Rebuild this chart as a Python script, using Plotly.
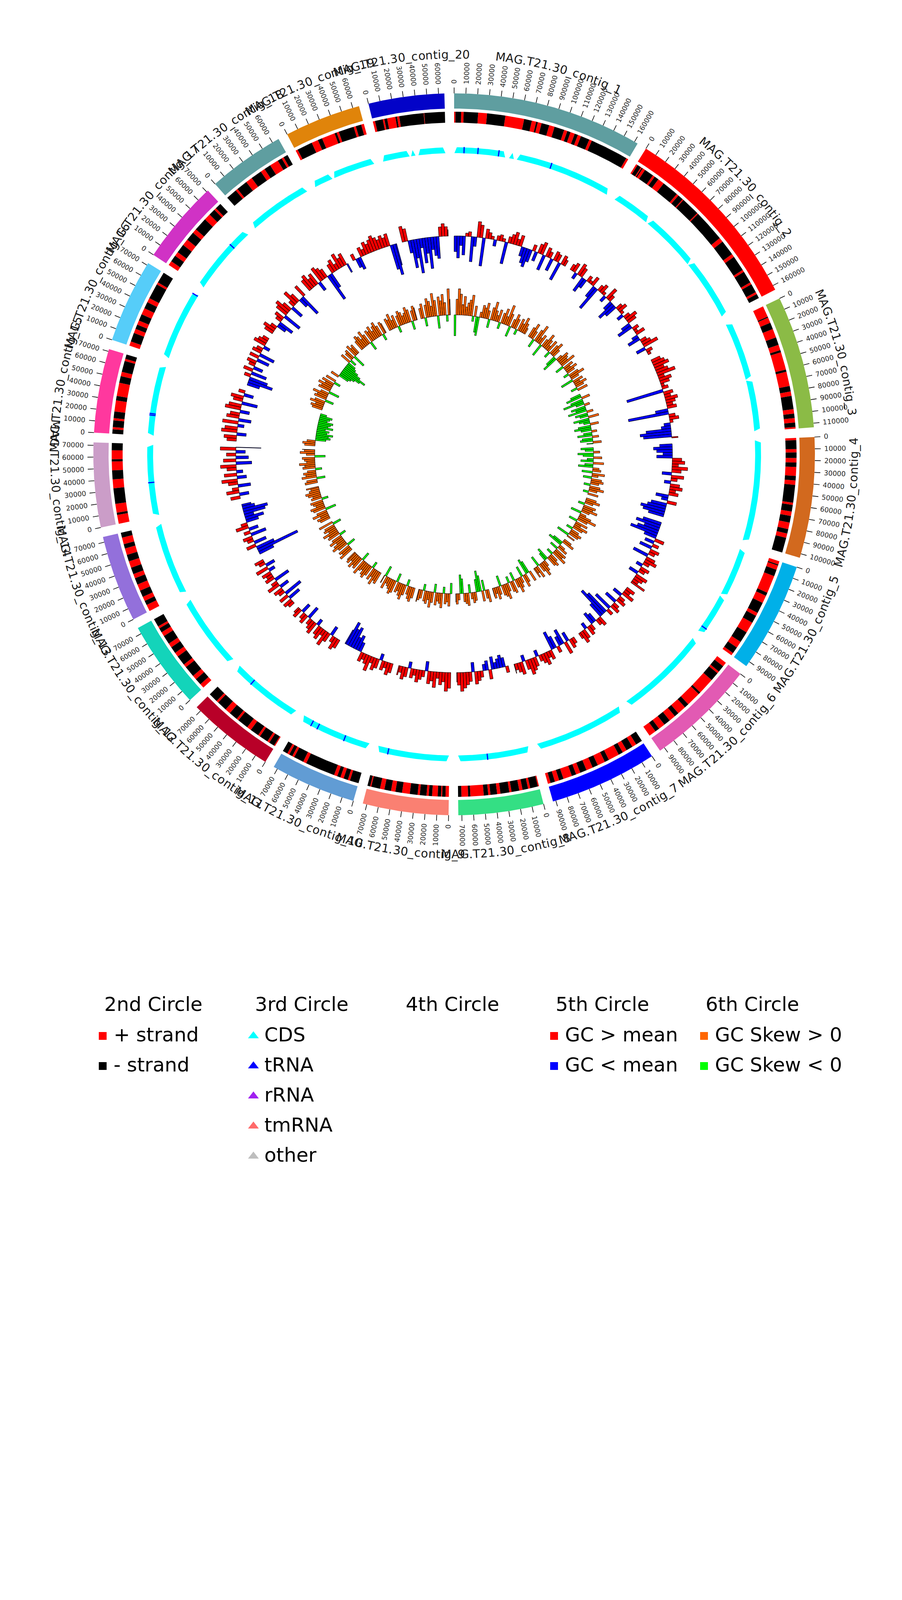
import math
import plotly.graph_objects as go

# ======================= DATA =======================
contig_labels = ["MAG.T21.30_contig_%d" % i for i in range(1, 21)]
contig_length_bp = [163000, 164000, 113500, 103500, 94500, 94500, 92500, 73000, 73500, 73500,
                    74500, 75500, 74500, 72500, 72000, 72000, 71500, 66000, 65500, 65000]
contig_colors = ["#5F9EA0", "#FF0000", "#8BBB46", "#D2691E", "#00B0E8", "#E25AB3", "#0000FF",
                 "#34DF84", "#FA8072", "#619CD4", "#B80028", "#13D4BA", "#9370DB", "#CB9DC8",
                 "#FF389E", "#56CDF9", "#D032C5", "#5F9EA0", "#E0840A", "#0303C8"]

# 2nd circle: strand runs (kb boundaries, alternating strand starting with strand_first)
strand_first = ['+', '+', '+', '+', '+', '+', '-', '+', '+', '-',
                '+', '+', '+', '+', '-', '+', '+', '-', '+', '+']
strand_bounds_kb = [
    [0, 1.2, 6.3, 8.5, 21.5, 29.5, 46, 63, 70, 74, 75.5, 79, 86, 91, 100, 103, 106, 110, 113, 116, 124, 126.5, 161, 163],
    [0, 1.5, 5, 6, 7, 9.5, 18, 20, 24, 30, 45, 47, 52, 53, 70, 71, 100, 104, 118, 121, 135, 137, 148, 150, 158, 160, 164],
    [0, 10, 11, 16, 22, 30, 37, 42, 44, 60, 62, 75, 80, 84, 96, 100, 104, 108, 112, 113.5],
    [0, 2, 10, 13, 18, 22, 26, 34, 38, 42, 58, 60, 66, 70, 76, 82, 86, 90, 103.5],
    [0, 3, 4, 8, 14, 30, 33, 40, 50, 53, 60, 70, 80, 86, 92, 94.5],
    [0, 4, 10, 12, 20, 35, 37, 50, 54, 62, 66, 72, 78, 84, 88, 94.5],
    [0, 6, 10, 16, 20, 24, 34, 38, 45, 50, 56, 62, 66, 70, 78, 82, 86, 90, 92.5],
    [0, 1, 8, 10, 15, 18, 25, 27, 35, 38, 44, 46, 50, 62, 64, 70, 73],
    [0, 3, 6, 7, 10, 15, 18, 20, 26, 28, 35, 42, 48, 52, 58, 62, 70, 71, 73.5],
    [0, 8, 10, 14, 17, 20, 23, 50, 53, 62, 64, 67, 69, 73.5],
    [0, 1, 6, 8, 16, 18, 26, 30, 40, 42, 50, 55, 64, 66, 74.5],
    [0, 4, 10, 14, 24, 27, 36, 40, 46, 50, 58, 62, 66, 68, 75.5],
    [0, 6, 10, 14, 20, 26, 32, 36, 42, 48, 54, 60, 64, 70, 74.5],
    [0, 8, 10, 18, 32, 40, 48, 56, 58, 66, 72.5],
    [0, 4, 6, 12, 14, 20, 30, 34, 46, 52, 56, 66, 68, 72],
    [0, 4, 12, 16, 20, 24, 30, 36, 42, 46, 60, 62, 72],
    [0, 4, 10, 14, 22, 28, 36, 40, 52, 58, 64, 66, 71.5],
    [0, 10, 12, 22, 28, 38, 42, 48, 56, 60, 62, 66],
    [0, 2, 16, 22, 26, 38, 40, 42, 56, 58, 63, 65.5],
    [0, 2, 9, 10.5, 13, 20.5, 22, 24, 46, 46.5, 65],
]

# 3rd circle: CDS blocks (kb) and tRNA positions (kb)
cds_blocks_kb = [
    [[0.3, 52], [56, 61], [64, 162.5]],
    [[0.5, 40], [42, 100], [101, 163.5]],
    [[0.5, 60], [61, 113]],
    [[0.5, 103]],
    [[0.5, 50], [52, 94]],
    [[0.5, 94]],
    [[0.5, 92]],
    [[0.5, 72.5]],
    [[0.5, 73]],
    [[0.5, 73]],
    [[0.5, 74]],
    [[0.5, 75]],
    [[0.5, 74]],
    [[0.5, 72]],
    [[0.5, 71.5]],
    [[0.5, 71.5]],
    [[0.5, 71]],
    [[0.5, 65.5]],
    [[0.5, 20], [22, 65]],
    [[0.5, 28], [29.5, 34], [37, 64.5]],
]
trna_kb = [[10, 24, 45, 99], [], [], [], [88], [], [], [43], [62], [26, 55, 62],
           [53], [], [], [34], [21, 22.5], [70], [51], [], [], []]

# 5th circle: GC content deviation from mean (%), 4 kb windows
gc_window_kb = 4
gc_dev_pct = [
    [-5, -7, -3, -6, 1, 1.5, -8, -3, 5, 4, -9, 3, 2, 1, -2, 1.5, 2, 1, -7, 2, 3, 4, 2, 3.5, -3, -5, -6, -4, 2, -3, 3, 4, -5, 3, 2, -4, 3, 2.5, -6, 3, 2],
    [2, 3, -2, 4, 3, -5, -3, 2, 1, 3, -4, -8, 2, 3, 1, -2, 4, 2, -3, -6, -4, 2, 3, 1, -2, 2, 4, 3, -3, -5, 2, 1, 3, -2, -4, 2, 3, 5, -3, 2, 1],
    [3, 4, 5, 3, 4, 6, 2, 4, 3, 1, 2, -12, 3, 2, 4, 3, 2, 3, -4, -13, 2, 3, 1, -2, -3, -8, -10, -9, 2],
    [-4, -6, -5, -3, -5, 3, 4, 2, 5, 3, -3, 4, 2, -2, 3, 4, 2, 3, -4, -2, 3, -5, -6, -8, -7, -5],
    [-6, -8, -5, -7, -9, -4, 3, -3, 2, -4, 3, 2, -5, 3, 4, 2, -2, 3, 2, -3, 4, 3, 2, 5],
    [3, 2, 4, -3, 2, 3, -4, 2, 3, -6, 2, -8, -10, -5, 3, 2, -3, -4, 2, 3, -2, 3, 4, 2],
    [2, 3, -3, 4, -5, -3, 2, -4, -6, 3, 2, 4, 3, 2, -2, 3, 4, 5, 3, -2, 4, 3, 2, 3],
    [2, -3, -4, -3, -2, -4, 3, -3, -2, 2, 3, 4, -3, 3, 4, 5, 6, 4, 3],
    [5, 6, 3, 4, 2, 5, 3, 4, -3, 2, 3, 4, 2, 3, -2, 3, 4, 2, 3],
    [3, 4, 2, 3, -2, 3, 4, 2, 5, 3, 2, 3, -3, -5, -4, -7, -6, -8, -5],
    [3, 4, 2, -3, 3, 5, 2, 4, 3, -2, 4, 3, 2, -4, 3, 2, -3, 3, 2],
    [2, 3, -4, 3, -6, 2, 3, -3, 4, 2, -5, 3, 2, 3, -2, 4, -3, 2, 3],
    [-5, -14, -6, 3, -4, 2, 3, -5, 2, -3, 4, 2, -4, -6, -3, -7, -8, -4, -3],
    [3, -3, 4, 2, -4, 3, 5, -3, 4, -2, 3, 5, -5, 4, -4, 3, -3, 5, -8],
    [3, 4, -3, 5, 4, -2, 5, -4, 4, 3, -3, 5, 4, -5, 3, 4, -3, 2],
    [-4, -8, -6, 2, -5, 3, -3, 2, 3, -4, 3, -5, 3, 2, -2, 4, 3, 2],
    [3, 4, 2, -3, -5, 2, 3, -6, 4, 5, 3, -4, 2, 5, 3, -3, -7, 4],
    [4, 5, 3, 4, -3, 5, 4, 3, -9, -5, 3, 4, 2, 5, 3, 4, -3],
    [2, -3, -4, 3, 2, 4, 3, 4, 5, 4, 3, 4, 3, 4, -8, -10, -7],
    [5, 4, -4, -9, -6, -11, -3, -8, -5, -10, -4, -6, -7, 3, 4, 3, 2],
]

# 6th circle: GC skew (x100), 4 kb windows
gc_skew_x100 = [
    [-20, 15, 25, 20, 10, 18, 8, 12, 15, 20, -5, 10, -15, -18, 5, 12, 10, 15, 8, -8, 12, 18, 10, 6, 12, -6, 10, 15, 8, 20, 12, -10, 8, 14, 10, -5, 12, 8, 15, 10, 6],
    [10, 15, 8, -8, 12, 18, 6, 10, -12, 8, 15, 10, 5, 12, -6, 10, 14, 8, -10, -15, 6, 12, 10, 8, 15, -8, 10, 6, 12, 8, -5, 10, 15, 8, -12, 10, 6, 12, 8, -6, 10],
    [-10, -15, 8, -12, -20, -8, 5, -14, -10, -18, 6, -12, -8, 10, -15, -10, -6, 8, -12, -16, -10, 5, -8, -14, 6, -10, -12, 8, -6],
    [-12, -8, 6, -15, -10, 8, -6, -12, 10, -8, -14, 6, 8, -10, 12, 6, -8, 10, 12, 8, -6, 10, 14, 8, -5, 10],
    [10, 14, 8, -6, 12, 10, 15, 8, -10, 6, 12, 18, 10, -8, 12, 6, 14, 10, -6, 8, 12, 10, -12, 8],
    [8, 12, -10, -14, 6, 10, -8, 12, 10, 15, -6, 8, 12, 10, -12, -8, 6, 10, 14, 8, -10, 12, 6, 10],
    [10, -12, -15, 8, 12, -10, 6, 10, 14, 8, -8, 12, 10, -6, 8, 15, 12, 10, -10, 8, 12, 6, 10, 8],
    [12, 8, -10, 10, -15, -20, -12, 8, 10, 6, -8, 12, 10, 8, -14, -18, 6, 10, 8],
    [-10, 12, 8, 10, -6, 14, 10, 8, 12, -8, 10, 15, 8, 12, 10, -6, 8, 10, 12],
    [10, 14, 12, 8, -6, 10, 15, 12, 8, 10, -8, 12, 14, 10, 8, 6, 12, -10, 8],
    [12, 10, 15, 8, 12, -6, 10, 14, 12, 8, 10, 15, -8, 12, 10, 14, 8, 12, 10],
    [14, 10, 12, -8, 10, 15, 12, 8, 14, 10, -6, 12, 10, 15, 8, 12, 10, -8, 14],
    [10, 12, 8, 15, 10, -10, 12, 14, 8, 10, 12, -6, 10, 8, 12, 14, 10, 8, 12],
    [12, 10, -8, 14, 10, 12, 8, -6, 12, 10, 15, 8, 10, 12, -10, 8, 14, 10, 12],
    [10, 12, 8, -10, -14, -12, -16, -10, -12, -8, -15, -10, -12, -14, -8, -10, -12, -6],
    [10, 12, 8, 14, 10, -8, 12, 10, 15, 8, -10, 12, 10, 14, 8, 12, -6, 10],
    [8, -10, -12, -15, -20, -25, -18, -14, -10, -8, 10, -6, 8, 10, -12, 12, 8, 10],
    [10, 14, 12, 8, 15, 10, -8, 12, 10, 14, 8, 12, 15, 10, -6, 12, 10],
    [12, 10, 15, 8, 12, -6, 10, 14, 12, 8, 10, 15, 12, -8, 10, 14, 12],
    [10, 14, -8, 12, 18, 15, 10, 22, 15, -12, 18, 14, 20, 12, -6, 25, 15],
]

tick_step_kb = 10

legend_columns = [
    ("2nd Circle", [("+ strand", "#FF0000", "square"), ("- strand", "#000000", "square")]),
    ("3rd Circle", [("CDS", "#00FFFF", "triangle-up"), ("tRNA", "#0000FF", "triangle-up"),
                    ("rRNA", "#A020F0", "triangle-up"), ("tmRNA", "#FF6A6A", "triangle-up"),
                    ("other", "#BEBEBE", "triangle-up")]),
    ("4th Circle", []),
    ("5th Circle", [("GC > mean", "#FF0000", "square"), ("GC < mean", "#0000FF", "square")]),
    ("6th Circle", [("GC Skew > 0", "#FF6600", "square"), ("GC Skew < 0", "#00FF00", "square")]),
]

# ======================= LAYOUT =======================
W, H = 2310, 4620
CX, CY = 1155, 1155
GAP_DEG = 1.55
R_IDEO = (885, 924)
R_STRAND = (849, 877)
R_CDS = (771, 786)
R_TRNA = (771, 787)
R_GC0, GC_SCALE = 559, 8.0
R_SK0, SK_SCALE = 357, 2.67
R_TICK = (924, 939)
R_TICKLABEL = 948
TICK_FS = 17.5
R_NAME = 1024
NAME_FS = 30
TRACK = 0.5
FONT = "DejaVu Sans"

lens_kb = [L / 1000.0 for L in contig_length_bp]
deg_per_kb = (360.0 - GAP_DEG * len(lens_kb)) / sum(lens_kb)
starts = []
acc = 0.0
for i, L in enumerate(lens_kb):
    starts.append(acc)
    acc += L * deg_per_kb + GAP_DEG


def ang(k, kb):
    return starts[k] + kb * deg_per_kb


def P(r, deg):
    a = math.radians(deg)
    return CX + r * math.sin(a), CY - r * math.cos(a)


def arc_pts(r, d0, d1, step=0.3):
    n = max(1, int(math.ceil(abs(d1 - d0) / step)))
    return [P(r, d0 + (d1 - d0) * i / n) for i in range(n + 1)]


def band(d0, d1, r0, r1, step=0.3):
    pts = arc_pts(r1, d0, d1, step) + arc_pts(r0, d1, d0, step)
    pts.append(pts[0])
    return pts


fig = go.Figure()


def add_polys(polys, fill, line_color=None, line_width=0.0):
    xs, ys = [], []
    for pts in polys:
        for x, y in pts:
            xs.append(x)
            ys.append(y)
        xs.append(None)
        ys.append(None)
    fig.add_trace(go.Scatter(
        x=xs, y=ys, mode="lines", fill="toself", fillcolor=fill,
        line=dict(color=line_color if line_color else fill, width=line_width),
        hoverinfo="skip", showlegend=False))


# 1st circle: ideogram
for k, L in enumerate(lens_kb):
    add_polys([band(ang(k, 0), ang(k, L), R_IDEO[0], R_IDEO[1])], contig_colors[k])

# 2nd circle: strand
plus_polys, minus_polys = [], []
for k, bounds in enumerate(strand_bounds_kb):
    sign = strand_first[k]
    for b0, b1 in zip(bounds[:-1], bounds[1:]):
        poly = band(ang(k, b0), ang(k, b1), R_STRAND[0], R_STRAND[1], step=0.2)
        (plus_polys if sign == '+' else minus_polys).append(poly)
        sign = '-' if sign == '+' else '+'
add_polys(plus_polys, "#FF0000")
add_polys(minus_polys, "#000000")

# 3rd circle: CDS
cds_polys = []
taper = 0.45
for k, blocks in enumerate(cds_blocks_kb):
    for s, e in blocks:
        a0, a1 = ang(k, s), ang(k, e)
        t = min(taper, (a1 - a0) / 2.0)
        pts = [P(R_CDS[0], a0)]
        pts += arc_pts(R_CDS[1], a0 + t, a1 - t, 0.3)
        pts += arc_pts(R_CDS[0], a1, a0, 0.3)
        cds_polys.append(pts)
add_polys(cds_polys, "#00FFFF")
tx, ty = [], []
for k, pos in enumerate(trna_kb):
    for p in pos:
        a = ang(k, p)
        x0, y0 = P(R_TRNA[0], a)
        x1, y1 = P(R_TRNA[1], a)
        tx += [x0, x1, None]
        ty += [y0, y1, None]
fig.add_trace(go.Scatter(x=tx, y=ty, mode="lines", line=dict(color="#0000FF", width=3),
                         hoverinfo="skip", showlegend=False))

# 5th circle: GC content; 6th circle: GC skew
gc_pos, gc_neg, sk_pos, sk_neg = [], [], [], []
for k, L in enumerate(lens_kb):
    for j, v in enumerate(gc_dev_pct[k]):
        s = j * gc_window_kb
        e = min((j + 1) * gc_window_kb, L)
        if e <= s:
            continue
        r1 = R_GC0 + v * GC_SCALE
        poly = band(ang(k, s), ang(k, e), min(R_GC0, r1), max(R_GC0, r1), step=0.4)
        (gc_pos if v >= 0 else gc_neg).append(poly)
    for j, v in enumerate(gc_skew_x100[k]):
        s = j * gc_window_kb
        e = min((j + 1) * gc_window_kb, L)
        if e <= s:
            continue
        r1 = R_SK0 + v * SK_SCALE
        poly = band(ang(k, s), ang(k, e), min(R_SK0, r1), max(R_SK0, r1), step=0.4)
        (sk_pos if v >= 0 else sk_neg).append(poly)
add_polys(gc_pos, "#FF0000", "#1a0000", 1.2)
add_polys(gc_neg, "#0000FF", "#00001a", 1.2)
add_polys(sk_pos, "#FF6600", "#1a0a00", 1.1)
add_polys(sk_neg, "#00FF00", "#001a00", 1.1)

# ticks and tick labels
annotations = []
kx, ky = [], []
for k, L in enumerate(lens_kb):
    kb = 0
    while kb <= L + 1e-9:
        a = ang(k, kb)
        x0, y0 = P(R_TICK[0], a)
        x1, y1 = P(R_TICK[1], a)
        kx += [x0, x1, None]
        ky += [y0, y1, None]
        label = str(int(kb * 1000))
        wlab = len(label) * 0.636 * TICK_FS
        xl, yl = P(R_TICKLABEL + wlab / 2.0, a)
        rot = a - 90 if a < 180 else a - 270
        annotations.append(dict(x=xl, y=yl, xref="x", yref="y", text=label, showarrow=False,
                                textangle=rot, xanchor="center", yanchor="middle",
                                font=dict(family=FONT, size=TICK_FS, color="#262626")))
        kb += tick_step_kb
fig.add_trace(go.Scatter(x=kx, y=ky, mode="lines", line=dict(color="#000000", width=1.6),
                         hoverinfo="skip", showlegend=False))

# curved contig names
CW = {'M': 0.863, 'A': 0.684, 'G': 0.775, '.': 0.318, 'T': 0.611, '_': 0.5, 'c': 0.55,
      'o': 0.612, 'n': 0.634, 't': 0.392, 'i': 0.278, 'g': 0.635}
for k, name in enumerate(contig_labels):
    mid = ang(k, lens_kb[k] / 2.0)
    top = mid < 90 or mid >= 270
    widths = [CW.get(ch, 0.636) * NAME_FS + TRACK for ch in name]
    total = sum(widths)
    pos = 0.0
    for ch, wch in zip(name, widths):
        c = pos + wch / 2.0 - total / 2.0
        pos += wch
        d = math.degrees(c / R_NAME)
        th = mid + d if top else mid - d
        rot = th if top else th - 180
        while rot > 180:
            rot -= 360
        while rot < -180:
            rot += 360
        x, y = P(R_NAME, th)
        annotations.append(dict(x=x, y=y, xref="x", yref="y", text=ch, showarrow=False,
                                textangle=rot, xanchor="center", yanchor="middle",
                                font=dict(family=FONT, size=NAME_FS, color="#1a1a1a")))

# legend
col_x = [245, 631, 1017, 1401, 1785]
header_y = 2563
row_y0, row_dy = 2641, 77
for ci, (title, items) in enumerate(legend_columns):
    annotations.append(dict(x=col_x[ci] + 12, y=header_y, xref="x", yref="y", text=title,
                            showarrow=False, xanchor="left", yanchor="middle",
                            font=dict(family=FONT, size=50, color="#000000")))
    for ri, (lab, colr, sym) in enumerate(items):
        yy = row_y0 + ri * row_dy
        fig.add_trace(go.Scatter(x=[col_x[ci] + 10], y=[yy + 3], mode="markers",
                                 marker=dict(symbol=sym, color=colr,
                                             size=20 if sym == "square" else 24,
                                             line=dict(width=0)),
                                 hoverinfo="skip", showlegend=False))
        annotations.append(dict(x=col_x[ci] + 36, y=yy, xref="x", yref="y", text=lab,
                                showarrow=False, xanchor="left", yanchor="middle",
                                font=dict(family=FONT, size=50, color="#000000")))

fig.update_layout(
    width=W, height=H, margin=dict(l=0, r=0, t=0, b=0),
    paper_bgcolor="white", plot_bgcolor="white",
    xaxis=dict(range=[0, W], visible=False, fixedrange=True),
    yaxis=dict(range=[H, 0], visible=False, fixedrange=True),
    annotations=annotations, showlegend=False,
)
fig.write_html("out.html")
